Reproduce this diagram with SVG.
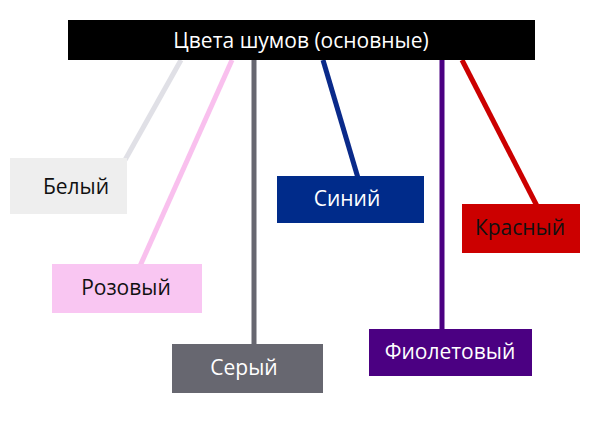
<svg xmlns="http://www.w3.org/2000/svg" width="600" height="443" viewBox="0 0 600 443">
<style>
.t{font-family:"Open Sans","Liberation Sans",sans-serif;font-size:21px;text-anchor:middle;dominant-baseline:central}
.c{stroke-width:5;fill:none}
</style>
<rect width="600" height="443" fill="#fff"/>
<g id="connectors">
<line class="c" x1="181" y1="60" x2="125" y2="160" stroke="#e0e0e6"/>
<line class="c" x1="232" y1="60" x2="140" y2="266" stroke="#f9c0ee"/>
<line class="c" x1="254" y1="60" x2="254" y2="346" stroke="#676770"/>
<line class="c" x1="323" y1="60" x2="358" y2="178" stroke="#0a2a8a"/>
<line class="c" x1="442" y1="60" x2="442" y2="331" stroke="#4b0082"/>
<line class="c" x1="462" y1="60" x2="537" y2="206" stroke="#cc0000"/>
</g>
<g id="title"><rect x="68" y="20" width="467" height="40" fill="#000"/><text class="t" x="301" y="40" fill="#fff" font-size="23">Цвета шумов (основные)</text></g>
<g id="white"><rect x="10" y="158" width="117" height="56" fill="#eeeeee"/><text class="t" x="76" y="186" fill="#111">Белый</text></g>
<g id="pink"><rect x="52" y="264" width="150" height="49" fill="#f9c6f2"/><text class="t" x="126" y="287" fill="#111">Розовый</text></g>
<g id="gray"><rect x="172" y="344" width="151" height="49" fill="#676770"/><text class="t" x="244" y="367" fill="#fff">Серый</text></g>
<g id="blue"><rect x="277" y="176" width="147" height="47" fill="#002b8a"/><text class="t" x="347" y="198" fill="#fff">Синий</text></g>
<g id="violet"><rect x="369" y="329" width="163" height="47" fill="#4b0082"/><text class="t" x="450" y="351" fill="#fff">Фиолетовый</text></g>
<g id="red"><rect x="462" y="204" width="118" height="49" fill="#cc0000"/><text class="t" x="520" y="227" fill="#111">Красный</text></g>
</svg>
